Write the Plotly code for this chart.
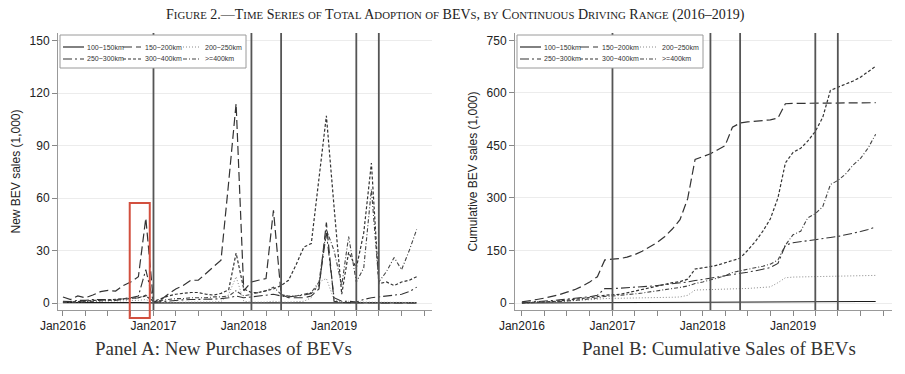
import pandas as pd
import plotly.graph_objects as go

# ---------------- data ----------------
months = pd.date_range("2016-01-01", periods=48, freq="MS")

series_names = ["100~150km", "150~200km", "200~250km", "250~300km", "300~400km", ">=400km"]

# Panel A: new purchases (1,000)
new_100_150 = [0.2, 0.1, 0.2, 0.2, 0.3, 0.2, 0.2, 0.2, 0.2, 0.2, 0.2, 0.3,
               0.05, 0.05, 0.06, 0.05, 0.05, 0.06, 0.05, 0.05, 0.05, 0.06, 0.05, 0.06,
               0.05, 0.05, 0.05, 0.05, 0.06, 0.05, 0.05, 0.05, 0.05, 0.05, 0.05, 0.06,
               0.05, 0.04, 0.05, 0.05, 0.05, 0.05, 0.04, 0.05, 0.05, 0.05, 0.05, 0.05]
new_150_200 = [3.4, 2.0, 4.0, 3.0, 4.6, 6.5, 7.2, 6.8, 10.0, 12.0, 15.0, 48.5,
               0.5, 2.0, 5.0, 8.0, 10.0, 13.0, 13.0, 17.0, 21.0, 24.5, 69.0, 114.0,
               7.0, 12.0, 13.0, 14.0, 53.0, 5.0, 3.0, 3.0, 3.0, 4.0, 8.0, 46.0,
               1.0, 0.3, 0.2, 0.2, 0.2, 0.2, 0.1, 0.1, 0.1, 0.1, 0.1, 0.1]
new_200_250 = [0.5, 0.5, 0.7, 0.8, 1.0, 1.0, 1.0, 1.0, 1.2, 1.5, 1.5, 2.0,
               0.2, 0.3, 0.3, 0.4, 0.4, 0.5, 0.5, 0.5, 0.6, 0.8, 5.0, 15.0,
               1.0, 0.5, 0.5, 0.5, 1.0, 0.5, 0.5, 0.8, 1.0, 3.0, 12.0, 14.0,
               2.0, 0.5, 1.0, 0.5, 0.5, 0.5, 0.3, 0.3, 0.3, 0.3, 0.3, 0.3]
new_250_300 = [1.0, 0.8, 1.5, 1.5, 2.0, 2.0, 2.0, 1.5, 2.5, 3.0, 4.0, 19.0,
               0.3, 0.8, 1.2, 1.5, 1.8, 2.0, 2.0, 2.0, 2.2, 2.5, 3.0, 4.0,
               3.0, 3.5, 4.0, 4.5, 5.0, 4.0, 3.5, 4.0, 4.5, 5.5, 10.0, 40.0,
               3.0, 1.0, 1.0, 0.5, 2.0, 3.0, 3.5, 4.0, 4.5, 5.0, 6.5, 9.0]
new_300_400 = [0.5, 0.5, 0.8, 1.0, 1.5, 1.5, 1.8, 2.0, 2.5, 2.5, 3.0, 4.0,
               1.0, 2.5, 4.0, 5.0, 5.5, 6.0, 6.0, 5.0, 4.5, 5.5, 7.5, 28.5,
               8.0, 6.0, 6.0, 7.0, 8.0, 10.0, 13.0, 22.0, 32.0, 34.0, 70.0, 107.0,
               55.0, 5.0, 29.0, 20.0, 40.0, 80.0, 11.0, 12.0, 10.0, 12.0, 13.0, 15.0]
new_ge400 = [0.3, 0.3, 0.5, 0.8, 1.0, 1.2, 1.5, 1.5, 2.0, 2.5, 3.0, 4.5,
             1.0, 1.5, 2.0, 2.5, 2.5, 3.0, 3.0, 3.0, 3.5, 3.5, 4.0, 7.0,
             4.0, 5.0, 6.0, 7.0, 9.0, 5.0, 4.0, 4.0, 5.0, 6.0, 12.0, 42.0,
             30.0, 10.0, 38.0, 12.0, 20.0, 65.0, 12.0, 18.0, 26.0, 19.0, 30.0, 42.0]

# Panel B: cumulative sales (1,000)
cum_100_150 = [0.2, 0.3, 0.5, 0.7, 1.0, 1.2, 1.4, 1.6, 1.8, 2.0, 2.2, 2.5,
               2.5, 2.6, 2.6, 2.7, 2.7, 2.8, 2.8, 2.9, 2.9, 3.0, 3.0, 3.1,
               3.1, 3.2, 3.2, 3.3, 3.3, 3.4, 3.4, 3.5, 3.5, 3.6, 3.6, 3.7,
               3.7, 3.8, 3.8, 3.9, 3.9, 4.0, 4.0, 4.1, 4.1, 4.2, 4.2, 4.3]
cum_150_200 = [3, 6, 10, 14, 18, 24, 31, 38, 48, 60, 75, 123,
               125, 127, 131, 138, 148, 160, 173, 190, 212, 238, 298, 410,
               417, 426, 437, 449, 502, 514, 517, 519, 521, 523, 528, 569,
               570, 570, 570, 571, 571, 571, 571, 571, 571, 572, 572, 572]
cum_200_250 = [0.5, 1.0, 1.7, 2.5, 3.5, 4.5, 5.5, 6.5, 7.7, 9.2, 10.7, 12.7,
               12.9, 13.2, 13.5, 13.9, 14.3, 14.8, 15.3, 15.8, 16.4, 17.2, 22, 37,
               38, 38.5, 39, 39.5, 40.5, 41, 41.5, 42.3, 43.3, 46, 58, 72,
               74, 74.5, 75.5, 76, 76.5, 77, 77.3, 77.6, 77.9, 78.2, 78.5, 78.8]
cum_250_300 = [1, 2, 3, 5, 7, 9, 11, 12, 15, 18, 22, 41,
               41, 42, 43, 44, 46, 48, 50, 52, 54, 57, 60, 64,
               67, 70, 74, 78, 82, 85, 88, 92, 96, 101, 113, 165,
               172, 175, 177, 179, 182, 187, 190, 194, 199, 204, 210, 217]
cum_300_400 = [0.5, 1, 2, 3, 4, 6, 8, 10, 12, 15, 18, 22,
               23, 25, 29, 34, 39, 45, 50, 55, 58, 61, 68, 97,
               100, 104, 108, 114, 120, 128, 150, 175, 205, 240, 300, 400,
               430, 442, 462, 490, 530, 607, 616, 625, 634, 645, 660, 676]
cum_ge400 = [0.3, 0.6, 1, 2, 3, 4, 5.5, 7, 9, 11.5, 14.5, 19,
             20, 21.5, 23.5, 26, 28.5, 31.5, 34.5, 37.5, 41, 44.5, 48.5, 55.5,
             60, 65, 71, 78, 87, 92, 96, 100, 105, 111, 123, 165,
             195, 205, 243, 255, 275, 338, 350, 368, 394, 413, 443, 482]

policy_dates = ["2017-01-01", "2018-02-01", "2018-06-01", "2019-04-01", "2019-07-01"]

tick_dates = pd.date_range("2016-01-01", "2020-01-01", freq="QS")
tick_text = [d.strftime("Jan%Y") if (d.month == 1 and d.year < 2020) else "" for d in tick_dates]

yticks_A = [0, 30, 60, 90, 120, 150]
yticks_B = [0, 150, 300, 450, 600, 750]

# ---------------- styles ----------------
styles = [
    dict(color="#1a1a1a", dash="solid", width=1.1),
    dict(color="#333333", dash="9px,4px", width=1.2),
    dict(color="#8a8a8a", dash="1px,2px", width=1.0),
    dict(color="#333333", dash="9px,3px,2px,3px", width=1.1),
    dict(color="#333333", dash="3px,2px", width=1.2),
    dict(color="#444444", dash="4px,2px,1px,2px", width=1.1),
]

new_series = [new_100_150, new_150_200, new_200_250, new_250_300, new_300_400, new_ge400]
cum_series = [cum_100_150, cum_150_200, cum_200_250, cum_250_300, cum_300_400, cum_ge400]

W, H = 905, 374
fig = go.Figure()

for name, vals, st in zip(series_names, new_series, styles):
    fig.add_trace(go.Scatter(x=months, y=vals, mode="lines", name=name, line=st,
                             xaxis="x", yaxis="y", showlegend=False))
for name, vals, st in zip(series_names, cum_series, styles):
    fig.add_trace(go.Scatter(x=months, y=vals, mode="lines", name=name, line=st,
                             xaxis="x2", yaxis="y2", showlegend=False))

# panel geometry in pixels
top_px, bot_px = 33, 310
panels = {"A": (58, 432), "B": (515, 892)}

def fx(px):
    return px / W

def fy(py):
    return 1 - py / H

axis_font = dict(family="Liberation Sans, Arial, sans-serif", size=12, color="#222")
common_x = dict(type="date", tickmode="array", tickvals=tick_dates, ticktext=tick_text,
                ticks="outside", ticklen=5, tickcolor="#888", showline=True, linecolor="#999",
                linewidth=1, showgrid=False, zeroline=False, tickfont=axis_font, tickangle=0,
                automargin=False)
common_y = dict(tickmode="array", ticks="outside", ticklen=5, tickcolor="#888",
                showline=True, linecolor="#999", linewidth=1, showgrid=True,
                gridcolor="#ececec", gridwidth=1, zeroline=False, tickfont=axis_font,
                automargin=False)

fig.update_layout(
    width=W, height=H, autosize=False,
    margin=dict(l=0, r=0, t=0, b=0, autoexpand=False),
    paper_bgcolor="white", plot_bgcolor="white",
    xaxis=dict(domain=[fx(58), fx(432)], range=["2015-12-12", "2020-02-01"], anchor="y", **common_x),
    yaxis=dict(domain=[fy(bot_px), fy(top_px)], range=[-4.0, 154.3], tickvals=yticks_A,
               anchor="x", title=dict(text="New BEV sales (1,000)", font=dict(family="Liberation Sans, Arial", size=12, color="#222"), standoff=6), **common_y),
    xaxis2=dict(domain=[fx(515), fx(892)], range=["2015-12-04", "2020-02-05"], anchor="y2", **common_x),
    yaxis2=dict(domain=[fy(bot_px), fy(top_px)], range=[-20, 771], tickvals=yticks_B,
                anchor="x2", title=dict(text="Cumulative BEV sales (1,000)", font=dict(family="Liberation Sans, Arial", size=12, color="#222"), standoff=6), **common_y),
)

shapes = []
# policy vertical lines
for xr, yr in [("x", "y"), ("x2", "y2")]:
    for d in policy_dates:
        shapes.append(dict(type="line", xref=xr, yref=yr + " domain", x0=d, x1=d, y0=0, y1=1,
                           line=dict(color="#555555", width=1.8), layer="above"))

# legends (manual, 3 columns x 2 rows)
annotations = []
for key, (left, right) in panels.items():
    shapes.append(dict(type="rect", xref="paper", yref="paper",
                       x0=fx(left + 2), x1=fx(left + 188), y0=fy(68), y1=fy(35),
                       fillcolor="white", line=dict(color="#9a9a9a", width=1), layer="above"))
    col_sample = [(left + 5, left + 26), (left + 65, left + 83), (left + 125, left + 143)]
    col_text = [left + 27, left + 85, left + 145]
    rows = [47, 59]
    for i, (name, st) in enumerate(zip(series_names, styles)):
        r, c = divmod(i, 3)
        s0, s1 = col_sample[c]
        shapes.append(dict(type="line", xref="paper", yref="paper",
                           x0=fx(s0), x1=fx(s1), y0=fy(rows[r]), y1=fy(rows[r]),
                           line=dict(color=st["color"], dash=st["dash"], width=st["width"]),
                           layer="above"))
        annotations.append(dict(xref="paper", yref="paper", x=fx(col_text[c]), y=fy(rows[r]),
                                text=name, showarrow=False, xanchor="left", yanchor="middle",
                                font=dict(family="Liberation Sans, Arial", size=7, color="#333")))

# red highlight box in panel A
shapes.append(dict(type="rect", xref="x", yref="paper", x0="2016-09-27", x1="2016-12-17",
                   y0=fy(318), y1=fy(203), line=dict(color="#d2503f", width=2),
                   fillcolor="rgba(0,0,0,0)", layer="above"))

# title (small caps)
def small_caps(s, small=10.8):
    out, buf = [], ""
    for ch in s:
        if ch.islower():
            buf += ch.upper()
        else:
            if buf:
                out.append(f'<span style="font-size:{small}px">{buf}</span>')
                buf = ""
            out.append(ch)
    if buf:
        out.append(f'<span style="font-size:{small}px">{buf}</span>')
    return "".join(out)

title_text = "Figure 2.\u2014Time Series of Total Adoption of BEVs, by Continuous Driving Range (2016\u20132019)"
annotations.append(dict(xref="paper", yref="paper", x=fx(456), y=fy(15), showarrow=False,
                        xanchor="center", yanchor="middle", text=small_caps(title_text),
                        font=dict(family="Liberation Serif, Times New Roman, serif", size=14, color="#222")))

annotations.append(dict(xref="paper", yref="paper", x=fx(223), y=fy(348), showarrow=False,
                        xanchor="center", yanchor="middle", text="Panel A: New Purchases of BEVs",
                        font=dict(family="Liberation Serif, Times New Roman, serif", size=19, color="#333")))
annotations.append(dict(xref="paper", yref="paper", x=fx(719), y=fy(348), showarrow=False,
                        xanchor="center", yanchor="middle", text="Panel B: Cumulative Sales of BEVs",
                        font=dict(family="Liberation Serif, Times New Roman, serif", size=19, color="#333")))

fig.update_layout(shapes=shapes, annotations=annotations)
fig.write_html("out.html", config={"displayModeBar": False},
               post_script="document.body.style.margin='0';document.body.style.overflow='hidden';")
